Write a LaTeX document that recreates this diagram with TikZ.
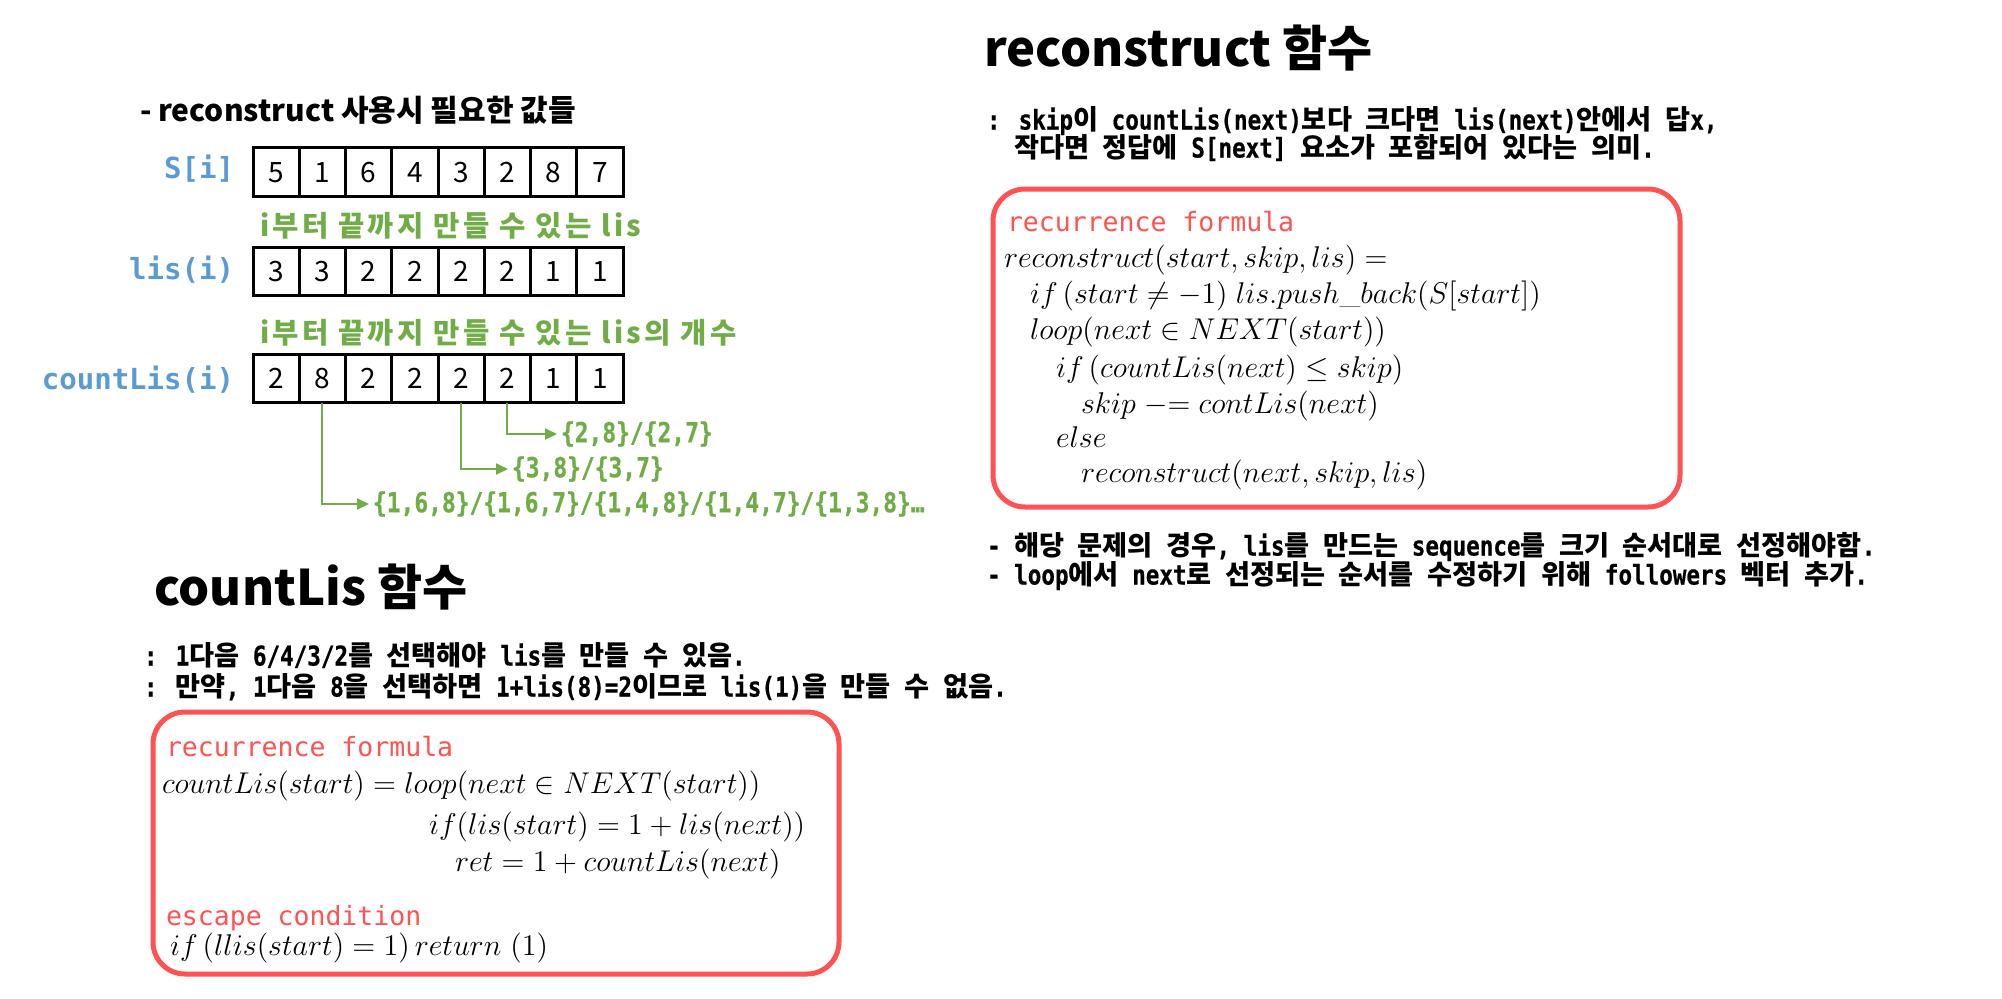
\RequirePackage{fix-cm}
\documentclass[tikz,border=0pt]{standalone}
\usepackage{fontspec}
\usetikzlibrary{arrows.meta}
\newfontfamily\krfont{Noto Sans CJK KR}
\newfontfamily\krwide[LetterSpace=11.5]{Noto Sans CJK KR}
\newfontfamily\dmono[FakeStretch=0.83,BoldFeatures={FakeBold=0.6}]{DejaVu Sans Mono}
\newfontfamily\labmono{DejaVu Sans Mono}
\newcommand\kor[1]{{\krfont\bfseries\spaceskip=0.5em\relax #1}}
\definecolor{myblue}{RGB}{91,155,213}
\definecolor{mygreen}{RGB}{112,173,71}
\definecolor{myred}{RGB}{255,82,82}
\tikzset{
  every node/.style={inner sep=0pt, outer sep=0pt},
  bigtitle/.style={anchor=base west, font=\fontsize{24.5}{28}\selectfont\krfont\bfseries},
  subtitle/.style={anchor=base west, font=\fontsize{15}{18}\selectfont\krfont\bfseries},
  monoline/.style={anchor=base west, font=\fontsize{13.6}{16}\selectfont\dmono\bfseries},
  greentxt/.style={anchor=base west, text=mygreen, font=\fontsize{14.3}{17}\selectfont\krwide\bfseries},
  lab/.style={anchor=base east, text=myblue, font=\fontsize{14.5}{17}\selectfont\labmono\bfseries},
  cell/.style={draw, line width=1.5pt, minimum width=23.125pt, minimum height=24.25pt,
    font=\fontsize{14}{17}\selectfont\krfont, text height=10.2pt, text depth=0pt},
  arrlab/.style={anchor=west, inner sep=2pt, text=mygreen, font=\fontsize{13.8}{16}\selectfont\dmono\bfseries},
  garrow/.style={draw=mygreen, line width=1pt, -{Triangle[length=6pt,width=5.5pt]}},
  redbox/.style={draw=myred, line width=2.5pt, rounded corners=16pt, anchor=north west},
  redlab/.style={anchor=base west, text=myred, font=\fontsize{13.25}{16}\selectfont\labmono},
  mathline/.style={anchor=base west, font=\fontsize{15}{17}\selectfont},
}
\begin{document}
\begin{tikzpicture}[x=0.5pt,y=-0.5pt]
\fill[white] (0,0) rectangle (2002,998);
\useasboundingbox (0,0) rectangle (2002,998);

% ---------- top left ----------
\node[subtitle] (sub) at (140,121) {- reconstruct 사용시 필요한 값들};
\node[lab] (lS) at (234,178) {S[i]};
\node[lab] (lL) at (234,279) {lis(i)};
\node[lab] (lC) at (234,389) {countLis(i)};
\foreach \v [count=\i] in {5,1,6,4,3,2,8,7}
  \node[cell] (s\i) at ({253+46.25*(\i-0.5)},172) {\v};
\foreach \v [count=\i] in {3,3,2,2,2,2,1,1}
  \node[cell] (l\i) at ({253+46.25*(\i-0.5)},271.5) {\v};
\foreach \v [count=\i] in {2,8,2,2,2,2,1,1}
  \node[cell] (c\i) at ({253+46.25*(\i-0.5)},378.5) {\v};
\node[greentxt] (g1) at (260,236) {i부터 끝까지 만들 수 있는 lis};
\node[greentxt] (g2) at (260,343) {i부터 끝까지 만들 수 있는 lis의 개수};

\node[arrlab] (a1) at (557,434) {\{2,8\}/\{2,7\}};
\node[arrlab] (a2) at (508,469) {\{3,8\}/\{3,7\}};
\node[arrlab] (a3) at (369,504) {\{1,6,8\}/\{1,6,7\}/\{1,4,8\}/\{1,4,7\}/\{1,3,8\}…};
\draw[garrow] (c6.south) |- (a1.west);
\draw[garrow] (c5.south) |- (a2.west);
\draw[garrow] (c2.south) |- (a3.west);

% ---------- right: reconstruct ----------
\node[bigtitle] (t1) at (984,66) {reconstruct 함수};
\node[monoline] (r0a) at (987,129.5) {: skip\kor{이} countLis(next)\kor{보다 크다면} lis(next)\kor{안에서 답}x,};
\node[monoline] (r0b) at (1014,157.5) {\kor{작다면 정답에} S[next] \kor{요소가 포함되어 있다는 의미}.};
\node[redbox, minimum width=343.5pt, minimum height=159pt] (box1) at (993,189) {};
\node[redlab] (rf1) at (1007,231) {recurrence formula};
\node[mathline] (r1) at (1004,267) {$reconstruct(start, skip, lis) =$};
\node[mathline] (r2) at (1030,303) {$if\,(start \neq -1)\; lis.push\_back(S[start])$};
\node[mathline] (r3) at (1030,339) {$loop\Bigl(next \in NEXT(start)\Bigr)$};
\node[mathline] (r4) at (1056,377) {$if\,(countLis(next) \le skip)$};
\node[mathline] (r5) at (1081,413) {$skip \mathrel{{-}{=}} contLis(next)$};
\node[mathline] (r6) at (1056,447) {$else$};
\node[mathline] (r7) at (1081,482) {$reconstruct(next, skip, lis)$};
\node[monoline] (b1) at (987,555.5) {- \kor{해당 문제의 경우}, lis\kor{를 만드는} sequence\kor{를 크기 순서대로 선정해야함}.};
\node[monoline] (b2) at (987,584.5) {- loop\kor{에서} next\kor{로 선정되는 순서를 수정하기 위해} followers \kor{벡터 추가}.};

% ---------- left bottom: countLis ----------
\node[bigtitle] (t2) at (154,605) {countLis 함수};
\node[monoline] (c0a) at (144,665.5) {: 1\kor{다음} 6/4/3/2\kor{를 선택해야} lis\kor{를 만들 수 있음}.};
\node[monoline] (c0b) at (144,696.5) {: \kor{만약}, 1\kor{다음} 8\kor{을 선택하면} 1+lis(8)=2\kor{이므로} lis(1)\kor{을 만들 수 없음}.};
\node[redbox, minimum width=343pt, minimum height=131pt] (box2) at (153,712) {};
\node[redlab] (rf2) at (166,756) {recurrence formula};
\node[mathline] (m1) at (162,793) {$countLis(start) = loop\Bigl(next \in NEXT(start)\Bigr)$};
\node[mathline] (m2) at (429,834) {$if\Bigl(lis(start) = 1 + lis(next)\Bigr)$};
\node[mathline] (m3) at (455,871) {$ret = 1 + countLis(next)$};
\node[redlab] (ec) at (166,925) {escape condition};
\node[mathline] (m4) at (170,955) {$if\,(llis(start) = 1)\, return\ (1)$};
\end{tikzpicture}
\end{document}
